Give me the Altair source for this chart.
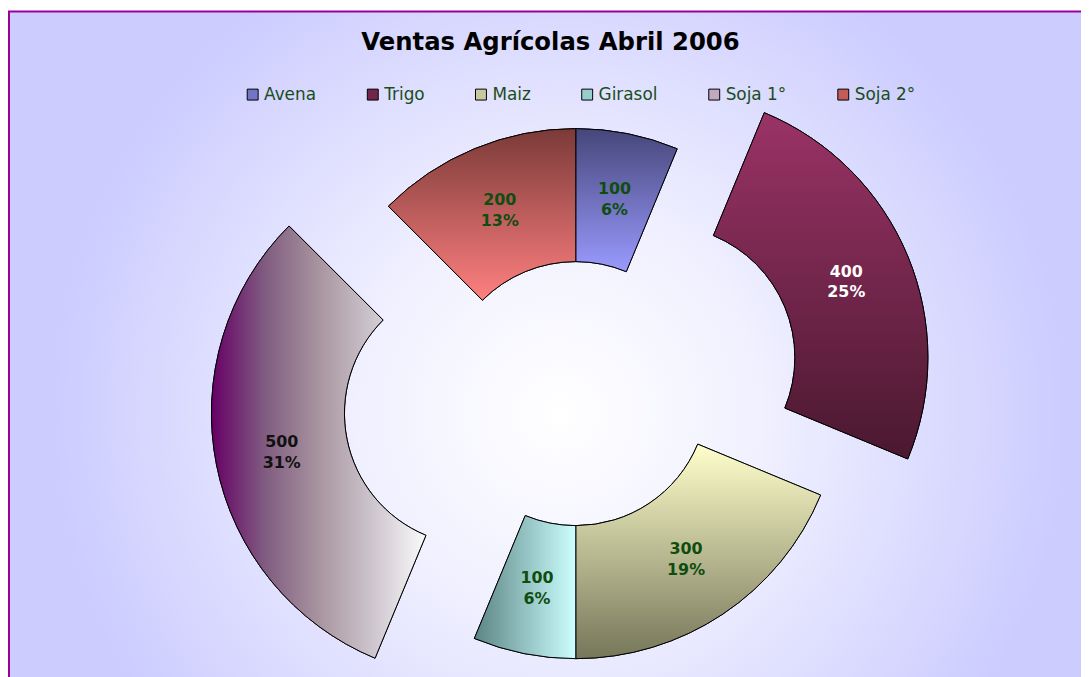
import json
import altair as alt
import pandas as pd

# ---------------- data ----------------
CATEGORIES = ["Avena", "Trigo", "Maiz", "Girasol", "Soja 1°", "Soja 2°"]
VALUES = [100, 400, 300, 100, 500, 200]
TITLE = "Ventas Agrícolas Abril 2006"

# ---------------- styles ----------------
GRADIENTS = {
    "Avena": ([(0, "#46467a"), (1, "#9a9aff")], "v"),
    "Trigo": ([(0, "#9a3366"), (1, "#4a1830")], "v"),
    "Maiz": ([(0, "#ffffcc"), (1, "#76765a")], "v"),
    "Girasol": ([(0, "#5c8484"), (1, "#ccffff")], "h"),
    "Soja 1°": ([(0, "#660066"), (0.25, "#805c80"), (0.5, "#a8949f"),
                 (0.75, "#cdc5cd"), (1, "#fafafa")], "h"),
    "Soja 2°": ([(0, "#7a3a38"), (1, "#ff8080")], "v"),
}
SWATCH = {
    "Avena": "#7474c4",
    "Trigo": "#72264c",
    "Maiz": "#c8c8a0",
    "Girasol": "#99cccc",
    "Soja 1°": "#c0a8c0",
    "Soja 2°": "#c25c58",
}
LABEL_COLORS = {
    "Avena": "#0f4d0f",
    "Trigo": "#ffffff",
    "Maiz": "#0f4d0f",
    "Girasol": "#0f4d0f",
    "Soja 1°": "#111111",
    "Soja 2°": "#0f4d0f",
}
EXPLODE = {"Trigo": 95, "Soja 1°": 102}

W, H_TOTAL, PAD_TOP = 1081, 669, 60
H = H_TOTAL - PAD_TOP
CX, CY = 572, 326
R_OUT, R_IN, R_LABEL = 267, 133, 200


def js_map(d, default):
    expr = default
    for k, v in d.items():
        expr = f"(datum.cat === {json.dumps(k)} ? {json.dumps(v)} : {expr})"
    return expr


df = pd.DataFrame({"cat": CATEGORIES, "value": VALUES, "order": list(range(len(CATEGORIES)))})

base = (
    alt.Chart(df)
    .transform_joinaggregate(total="sum(value)")
    .transform_window(cum="sum(value)", sort=[alt.SortField("order")], frame=[None, 0])
    .transform_calculate(a0="(datum.cum - datum.value) / datum.total * 2 * PI")
    .transform_calculate(a1="datum.cum / datum.total * 2 * PI")
    .transform_calculate(mid="(datum.a0 + datum.a1) / 2")
    .transform_calculate(ex=js_map(EXPLODE, "0"))
    .transform_calculate(cx=f"{CX} + datum.ex * sin(datum.mid)")
    .transform_calculate(cy=f"{CY} - datum.ex * cos(datum.mid)")
    .transform_calculate(pct="round(datum.value / datum.total * 100)")
    .transform_calculate(lx=f"datum.cx + {R_LABEL} * sin(datum.mid)")
    .transform_calculate(ly=f"datum.cy - {R_LABEL} * cos(datum.mid)")
    .transform_calculate(label="datum.value + '\\n' + datum.pct + '%'")
    .transform_calculate(lc=js_map(LABEL_COLORS, "'#000000'"))
)

arc_enc = dict(
    theta=alt.Theta("a0:Q", scale=None, stack=None),
    theta2="a1:Q",
    x=alt.X("cx:Q", scale=None),
    y=alt.Y("cy:Q", scale=None),
)

# background panel
bg_grad = {
    "gradient": "radial",
    "x1": 0.5, "y1": 0.55, "r1": 0,
    "x2": 0.5, "y2": 0.55, "r2": 0.46,
    "stops": [
        {"offset": 0, "color": "#ffffff"},
        {"offset": 0.4, "color": "#f0f0ff"},
        {"offset": 1, "color": "#ccccff"},
    ],
}
bg = alt.Chart(alt.Data(values=[{}])).mark_rect(
    fill=bg_grad, stroke="#990099", strokeWidth=2
).encode(
    x=alt.value(1), x2=alt.value(W + 30),
    y=alt.value(-PAD_TOP + 1), y2=alt.value(H + 30),
)

arcs_legend = base.mark_arc(
    radius=R_OUT, radius2=R_IN, stroke="black", strokeWidth=1
).encode(
    fill=alt.Fill(
        "cat:N",
        scale=alt.Scale(domain=CATEGORIES, range=[SWATCH[c] for c in CATEGORIES]),
        sort=CATEGORIES,
        legend=alt.Legend(
            orient="none", legendX=238, legendY=16, direction="horizontal",
            columns=6, title=None, symbolType="square", symbolSize=121,
            symbolStrokeColor="black", symbolStrokeWidth=1, symbolOpacity=1,
            labelFont="DejaVu Sans", labelFontSize=17, labelColor="#1a4d1a",
            columnPadding=48, labelOffset=3, padding=0,
        ),
    ),
    **arc_enc,
)

grad_layers = []
for c in CATEGORIES:
    stops, d = GRADIENTS[c]
    grad = {
        "gradient": "linear",
        "x1": 0, "y1": 0,
        "x2": 0 if d == "v" else 1,
        "y2": 1 if d == "v" else 0,
        "stops": [{"offset": o, "color": col} for o, col in stops],
    }
    grad_layers.append(
        base.transform_filter(alt.datum.cat == c)
        .mark_arc(radius=R_OUT, radius2=R_IN, fill=grad, stroke="black", strokeWidth=1)
        .encode(**arc_enc)
    )

labels = base.mark_text(
    font="DejaVu Sans", fontSize=16, fontWeight="bold", lineBreak="\n",
    lineHeight=21, align="center", baseline="middle", dy=-10,
).encode(
    x=alt.X("lx:Q", scale=None),
    y=alt.Y("ly:Q", scale=None),
    text="label:N",
    color=alt.Color("lc:N", scale=None),
)

chart = (
    alt.layer(bg, arcs_legend, *grad_layers, labels)
    .resolve_scale(color="independent", fill="independent")
    .properties(
        width=W,
        height=H,
        padding={"left": 0, "top": PAD_TOP, "right": 0, "bottom": 0},
        autosize=alt.AutoSizeParams(type="none"),
        title=alt.TitleParams(
            TITLE, font="DejaVu Sans", fontSize=24.5, fontWeight="bold",
            color="black", anchor="middle", frame="group", offset=0, dy=45, dx=6,
        ),
    )
    .configure_view(stroke=None)
)

chart.save("out.html", embed_options={"renderer": "svg", "actions": False})
